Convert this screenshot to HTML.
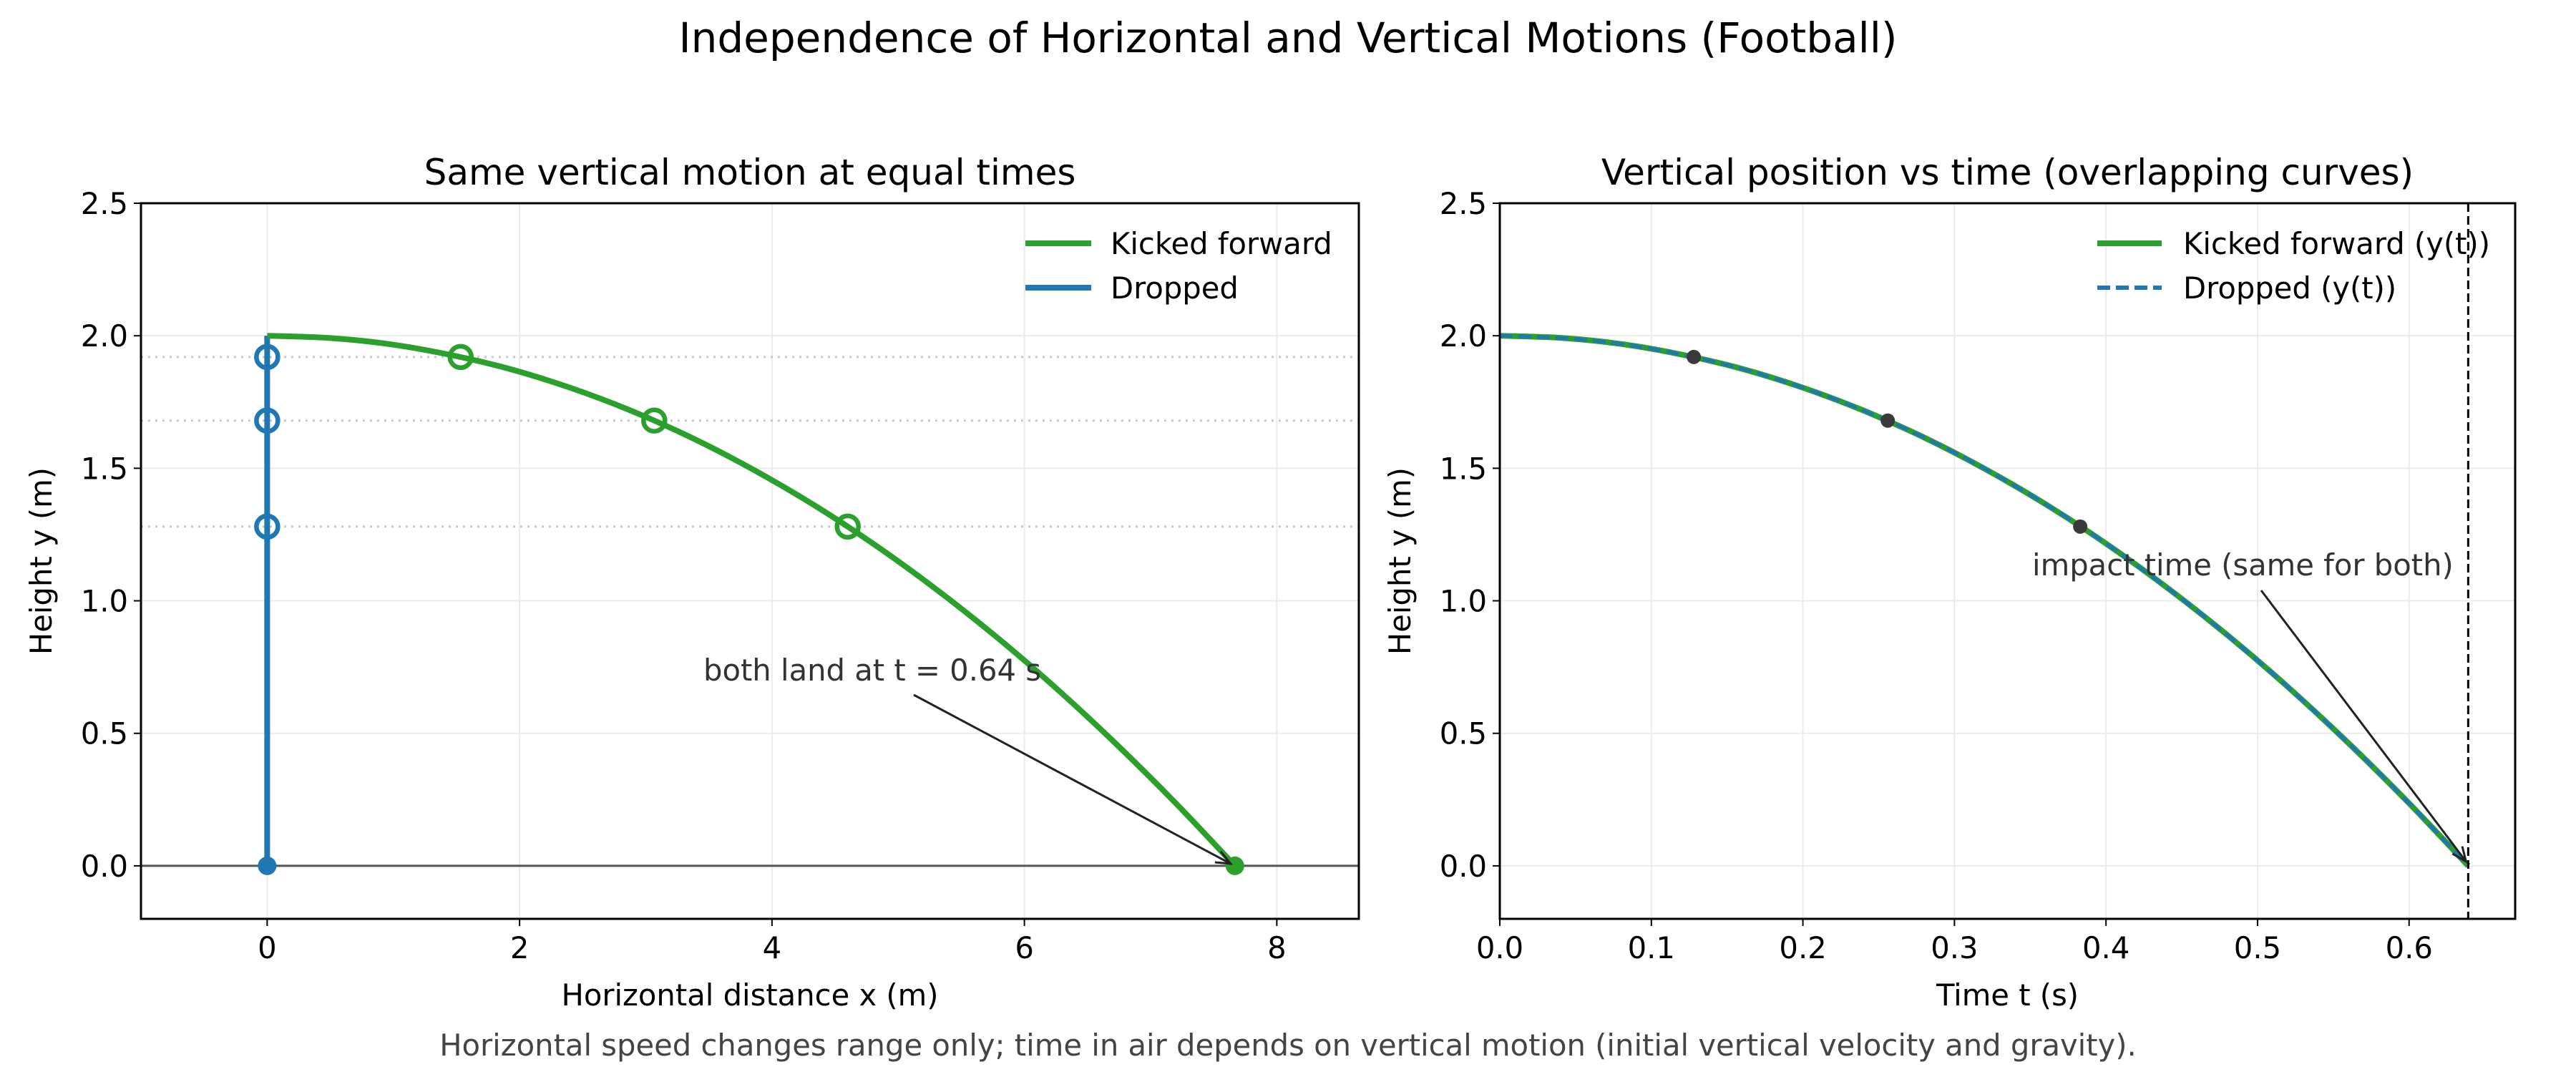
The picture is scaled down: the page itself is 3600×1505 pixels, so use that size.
<!DOCTYPE html>
<html><head><meta charset="utf-8"><style>
body{margin:0;background:#fff}
svg text{font-family:"DejaVu Sans","Liberation Sans",sans-serif;}
</style></head><body>
<svg id="fig" width="3600" height="1500" viewBox="0 0 3600 1500" xmlns="http://www.w3.org/2000/svg">
<text x="1800" y="73" text-anchor="middle" font-size="58" fill="#000">Independence of Horizontal and Vertical Motions (Football)</text>
<text x="1800" y="1475" text-anchor="middle" font-size="41.7" fill="#444">Horizontal speed changes range only; time in air depends on vertical motion (initial vertical velocity and gravity).</text>
<g id="left"></g>
<g id="right"></g>
</svg>
<script>
// data
const times = [0,0.04,0.08,0.12,0.16,0.20,0.24,0.28,0.32,0.36,0.40,0.44,0.48,0.52,0.56,0.60,0.639];
const kickedX = [0,0.48,0.96,1.44,1.92,2.40,2.88,3.36,3.84,4.32,4.80,5.28,5.76,6.24,6.72,7.20,7.668];
const heights = [2,1.992,1.969,1.929,1.875,1.804,1.718,1.616,1.498,1.365,1.216,1.051,0.871,0.675,0.463,0.236,0];
const markTimes = [0.128,0.256,0.383];
const markX = [1.533,3.067,4.600];
const markY = [1.92,1.68,1.28];
const landX = [7.668];
const landT = [0.639];
const yTicks = [0,0.5,1.0,1.5,2.0,2.5];
const xTicksL = [0,2,4,6,8];
const xTicksR = [0,0.1,0.2,0.3,0.4,0.5,0.6];

const NS="http://www.w3.org/2000/svg";
const FS=41.7;
function mk(p,tag,at){const e=document.createElementNS(NS,tag);for(const k in at)e.setAttribute(k,at[k]);p.appendChild(e);return e;}
function smooth(pts){let d=`M${pts[0][0]},${pts[0][1]}`;for(let i=0;i<pts.length-1;i++){const p0=pts[Math.max(0,i-1)],p1=pts[i],p2=pts[i+1],p3=pts[Math.min(pts.length-1,i+2)];d+=` C${p1[0]+(p2[0]-p0[0])/6},${p1[1]+(p2[1]-p0[1])/6} ${p2[0]-(p3[0]-p1[0])/6},${p2[1]-(p3[1]-p1[1])/6} ${p2[0]},${p2[1]}`;}return d;}
const TOP=284,BOT=1284,yMin=-0.2,yMax=2.5;
const Y=v=>TOP+(yMax-v)/(yMax-yMin)*(BOT-TOP);
const GREEN="#2ca02c",BLUE="#1f77b4";

function axes(g,L,R,xs,xlim,xTicks,fmt,title,xlabel,ylabelX){
  const X=v=>L+(v-xlim[0])/(xlim[1]-xlim[0])*(R-L);
  for(const t of xTicks){const gl=mk(g,'line',{x1:X(t),x2:X(t),y1:TOP,y2:BOT,stroke:'#ebebeb','stroke-width':2});
    }
  for(const t of yTicks){const gl=mk(g,'line',{x1:L,x2:R,y1:Y(t),y2:Y(t),stroke:'#ebebeb','stroke-width':2});
    }
  for(const t of xTicks){mk(g,'line',{x1:X(t),x2:X(t),y1:BOT,y2:BOT+10,stroke:'#000','stroke-width':2});
    const tx=mk(g,'text',{x:X(t),y:BOT+55,'text-anchor':'middle','font-size':FS});tx.textContent=fmt(t);
    }
  for(const t of yTicks){mk(g,'line',{x1:L-10,x2:L,y1:Y(t),y2:Y(t),stroke:'#000','stroke-width':2});
    const tx=mk(g,'text',{x:L-18,y:Y(t)+15,'text-anchor':'end','font-size':FS});tx.textContent=t.toFixed(1);
    }
  const tt=mk(g,'text',{x:(L+R)/2,y:258,'text-anchor':'middle','font-size':50});tt.textContent=title;
  
  const xl=mk(g,'text',{x:(L+R)/2,y:1405,'text-anchor':'middle','font-size':FS});xl.textContent=xlabel;
  
  const yl=mk(g,'text',{x:ylabelX,y:(TOP+BOT)/2,'text-anchor':'middle','font-size':FS,transform:`rotate(-90 ${ylabelX} ${(TOP+BOT)/2})`});yl.textContent='Height y (m)';
  
  return X;
}
function frame(g,L,R){const f=mk(g,'rect',{x:L,y:TOP,width:R-L,height:BOT-TOP,fill:'none',stroke:'#000','stroke-width':3});
  }
function arrow(g,x1,y1,x2,y2){mk(g,'line',{x1,y1,x2,y2,stroke:'#222','stroke-width':3});
  const a=Math.atan2(y2-y1,x2-x1),s=22;
  mk(g,'polyline',{points:`${x2-s*Math.cos(a-0.4)},${y2-s*Math.sin(a-0.4)} ${x2},${y2} ${x2-s*Math.cos(a+0.4)},${y2-s*Math.sin(a+0.4)}`,fill:'none',stroke:'#222','stroke-width':3});}

// LEFT
{
const g=document.getElementById('left');const L=197,R=1899;
const X=axes(g,L,R,null,[-1.0,8.65],xTicksL,t=>String(t),'Same vertical motion at equal times','Horizontal distance x (m)',72);
for(const y of markY){const l=mk(g,'line',{x1:L,x2:R,y1:Y(y),y2:Y(y),stroke:'#c8c8c8','stroke-width':3,'stroke-dasharray':'3 7'});
  }
const z=mk(g,'line',{x1:L,x2:R,y1:Y(0),y2:Y(0),stroke:'#555','stroke-width':3});

const drop=mk(g,'line',{x1:X(0),x2:X(0),y1:Y(heights[0]),y2:Y(heights[heights.length-1]),stroke:BLUE,'stroke-width':8});

const kick=mk(g,'path',{d:smooth(kickedX.map((x,i)=>[X(x),Y(heights[i])])),fill:'none',stroke:GREEN,'stroke-width':8});

markY.forEach((y,i)=>{
  const b=mk(g,'circle',{cx:X(0),cy:Y(y),r:15,fill:'none',stroke:BLUE,'stroke-width':6.5});
  
  const c=mk(g,'circle',{cx:X(markX[i]),cy:Y(y),r:15,fill:'none',stroke:GREEN,'stroke-width':6.5});
  });
const bl=mk(g,'circle',{cx:X(0),cy:Y(0),r:13,fill:BLUE});
const gl=mk(g,'circle',{cx:X(landX[0]),cy:Y(0),r:13,fill:GREEN});
const at=mk(g,'text',{x:983,y:951,'font-size':FS,fill:'#333'});at.textContent='both land at t = 0.64 s';

arrow(g,1277,971,X(landX[0])-6,Y(0)-3);
frame(g,L,R);
const lg=mk(g,'g',{});
mk(lg,'line',{x1:1433,x2:1525,y1:340,y2:340,stroke:GREEN,'stroke-width':8});
let t1=mk(lg,'text',{x:1552,y:355,'font-size':FS});t1.textContent='Kicked forward';
mk(lg,'line',{x1:1433,x2:1525,y1:402,y2:402,stroke:BLUE,'stroke-width':8});
let t2=mk(lg,'text',{x:1552,y:417,'font-size':FS});t2.textContent='Dropped';
}
// RIGHT
{
const g=document.getElementById('right');const L=2096,R=3515;
const X=axes(g,L,R,null,[0,0.67],xTicksR,t=>t.toFixed(1),'Vertical position vs time (overlapping curves)','Time t (s)',1971);
const pts=times.map((t,i)=>[X(t),Y(heights[i])]);
const k=mk(g,'path',{d:smooth(pts),fill:'none',stroke:GREEN,'stroke-width':8});

const d=mk(g,'path',{d:smooth(pts),fill:'none',stroke:BLUE,'stroke-width':5,'stroke-dasharray':'18 8'});

markTimes.forEach((t,i)=>{const c=mk(g,'circle',{cx:X(t),cy:Y(markY[i]),r:10,fill:'#3a3a3a'});
  });
const v=mk(g,'line',{x1:X(landT[0]),x2:X(landT[0]),y1:TOP,y2:BOT,stroke:'#000','stroke-width':3,'stroke-dasharray':'12 6'});

const at=mk(g,'text',{x:2840,y:804,'font-size':FS,fill:'#333'});at.textContent='impact time (same for both)';

arrow(g,3160,825,X(landT[0])-3,Y(0)-6);
frame(g,L,R);
const lg=mk(g,'g',{});
mk(lg,'line',{x1:2931,x2:3021,y1:340,y2:340,stroke:GREEN,'stroke-width':8});
let t1=mk(lg,'text',{x:3051,y:355,'font-size':FS});t1.textContent='Kicked forward (y(t))';
mk(lg,'line',{x1:2931,x2:3021,y1:402,y2:402,stroke:BLUE,'stroke-width':6,'stroke-dasharray':'18 8'});
let t2=mk(lg,'text',{x:3051,y:417,'font-size':FS});t2.textContent='Dropped (y(t))';
}
</script>
</body></html>
